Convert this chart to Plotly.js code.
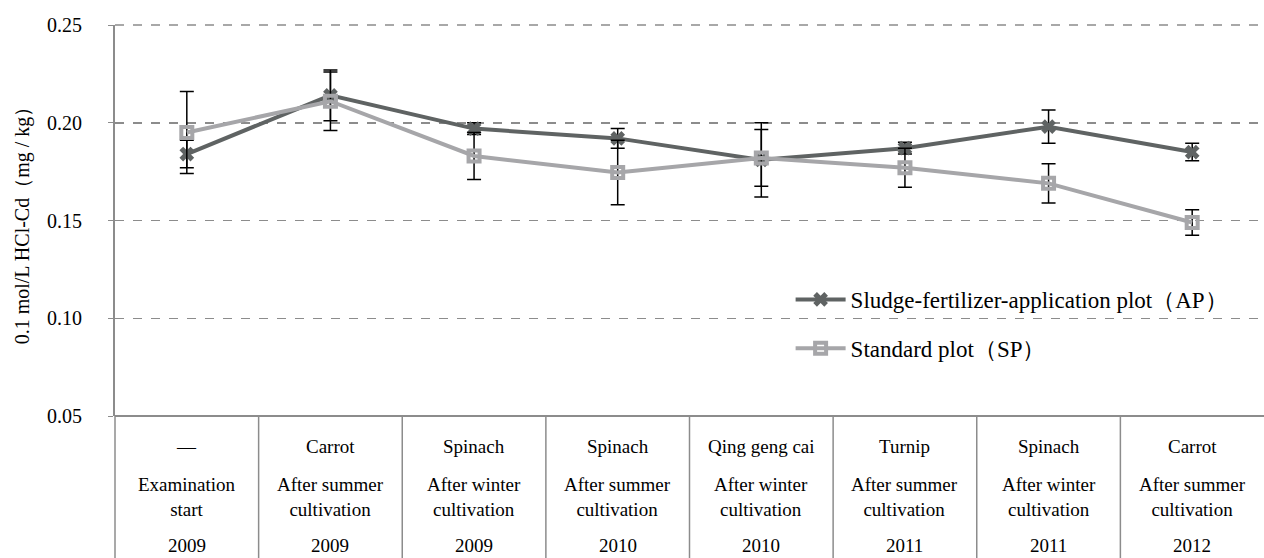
<!DOCTYPE html>
<html>
<head>
<meta charset="utf-8">
<script src="https://cdn.plot.ly/plotly-3.0.1.min.js"></script>
<style>html,body{margin:0;padding:0;background:#fff;}#chart{width:1264px;height:558px;}</style>
</head>
<body>
<div id="chart"></div>
<script>
const crops   = ["—", "Carrot", "Spinach", "Spinach", "Qing geng cai", "Turnip", "Spinach", "Carrot"];
const seasons = ["Examination<br>start", "After summer<br>cultivation", "After winter<br>cultivation", "After summer<br>cultivation", "After winter<br>cultivation", "After summer<br>cultivation", "After winter<br>cultivation", "After summer<br>cultivation"];
const years   = ["2009", "2009", "2009", "2010", "2010", "2011", "2011", "2012"];

const apName = "Sludge-fertilizer-application plot（AP）";
const spName = "Standard plot（SP）";
const apValues = [0.184, 0.214, 0.197, 0.192, 0.181, 0.187, 0.198, 0.185];
const apErrors = [0.007, 0.013, 0.003, 0.005, 0.019, 0.003, 0.0085, 0.0045];
const spValues = [0.195, 0.211, 0.183, 0.1745, 0.182, 0.177, 0.169, 0.149];
const spErrors = [0.021, 0.015, 0.012, 0.0165, 0.0145, 0.010, 0.010, 0.0065];

const idx = crops.map((_, i) => i);
const serif = "Liberation Serif, Times New Roman, serif";

const traces = [
  {
    x: idx, y: apValues, name: apName, type: "scatter", mode: "lines+markers",
    legendgroup: "ap",
    line: {color: "#5f6363", width: 4},
    marker: {symbol: "x", size: 13, color: "#5f6363"},
    error_y: {type: "data", array: apErrors, visible: true, color: "#000", thickness: 1.5, width: 7}
  },
  {
    x: idx, y: spValues, name: spName, type: "scatter", mode: "lines+markers",
    legendgroup: "sp",
    line: {color: "#a6a6a9", width: 4},
    marker: {symbol: "square-open", size: 11, color: "#a6a6a9", line: {width: 4, color: "#a6a6a9"}},
    error_y: {type: "data", array: spErrors, visible: true, color: "#000", thickness: 1.5, width: 7}
  }
];

const yBottom = -142 / 391;
const shapes = [];
for (let i = 0; i < crops.length - 1; i++) {
  shapes.push({type: "line", xref: "x", yref: "paper", x0: i + 0.5, x1: i + 0.5, y0: 0, y1: yBottom,
    line: {color: "#8c8c8c", width: 1.5}});
}
shapes.push({type: "line", xref: "paper", yref: "paper", x0: 0, x1: 0, y0: 0, y1: yBottom,
  line: {color: "#8c8c8c", width: 1.5}});
shapes.push({type: "line", xref: "paper", yref: "paper", x0: 0, x1: 1, y0: 1, y1: 1,
  line: {color: "#8c8c8c", width: 1.5, dash: "dash"}, layer: "below"});
shapes.push({type: "line", xref: "paper", yref: "paper", x0: 0, x1: 1, y0: 0, y1: 0,
  line: {color: "#8c8c8c", width: 2}});

const annotations = [];
idx.forEach(i => {
  annotations.push({x: i, y: -30 / 391, xref: "x", yref: "paper", text: crops[i], showarrow: false,
    font: {family: serif, size: 19, color: "#000"}, yanchor: "middle"});
  annotations.push({x: i, y: -81 / 391, xref: "x", yref: "paper", text: seasons[i], showarrow: false,
    font: {family: serif, size: 19, color: "#000"}, yanchor: "middle"});
  annotations.push({x: i, y: -129 / 391, xref: "x", yref: "paper", text: years[i], showarrow: false,
    font: {family: serif, size: 19, color: "#000"}, yanchor: "middle"});
});

const layout = {
  width: 1264, height: 558,
  margin: {l: 115, r: 0, t: 25, b: 142},
  paper_bgcolor: "#fff", plot_bgcolor: "#fff",
  font: {family: serif, size: 20, color: "#000"},
  showlegend: true,
  legend: {
    x: 0.588, y: 0.353, xanchor: "left", yanchor: "top",
    font: {family: serif, size: 23, color: "#000"},
    traceorder: "grouped", tracegroupgap: 16, itemwidth: 50,
    bgcolor: "rgba(0,0,0,0)"
  },
  xaxis: {
    range: [-0.5, 7.5], showticklabels: false, showgrid: false, zeroline: false,
    showline: false, ticks: "", fixedrange: true
  },
  yaxis: {
    range: [0.05, 0.25], dtick: 0.05, tickformat: ".2f",
    showgrid: true, gridcolor: "#8c8c8c", griddash: "dash", gridwidth: 1.5,
    showline: true, linecolor: "#8c8c8c", linewidth: 2,
    ticks: "outside", ticklen: 5, tickcolor: "#8c8c8c",
    zeroline: false, ticklabelstandoff: 22,
    tickfont: {family: serif, size: 20, color: "#000"},
    title: {text: "0.1 mol/L HCl-Cd（mg / kg）", font: {family: serif, size: 20, color: "#000"}, standoff: 12}
  },
  shapes: shapes,
  annotations: annotations
};

Plotly.newPlot("chart", traces, layout, {displayModeBar: false, staticPlot: true});
</script>
</body>
</html>
